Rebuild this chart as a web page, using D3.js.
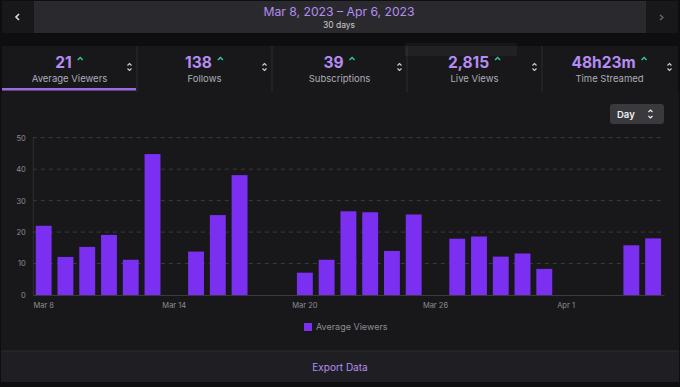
<!DOCTYPE html>
<html>
<head>
<meta charset="utf-8">
<script src="https://cdn.jsdelivr.net/npm/d3@7"></script>
<style>
  body { margin: 0; background: #0e0e10; }
  svg { display: block; font-family: Inter, "Noto Sans", sans-serif; }
</style>
</head>
<body>
<div id="chart"></div>
<script>
// Data
var days = ["Mar 8", "Mar 9", "Mar 10", "Mar 11", "Mar 12", "Mar 13", "Mar 14", "Mar 15",
  "Mar 16", "Mar 17", "Mar 18", "Mar 19", "Mar 20", "Mar 21", "Mar 22", "Mar 23", "Mar 24",
  "Mar 25", "Mar 26", "Mar 27", "Mar 28", "Mar 29", "Mar 30", "Mar 31", "Apr 1", "Apr 2",
  "Apr 3", "Apr 4", "Apr 5"];
var avgViewers = [22, 12.1, 15.3, 19.1, 11.2, 44.8, 0, 13.8, 25.4, 38.1, 0, 0, 7.1, 11.2,
  26.6, 26.3, 14, 25.6, 0, 17.9, 18.6, 12.2, 13.2, 8.3, 0, 0, 0, 15.8, 18];
var xTicks = ["Mar 8", "Mar 14", "Mar 20", "Mar 26", "Apr 1"];
var yTicks = [0, 10, 20, 30, 40, 50];

var statValues = ["21", "138", "39", "2,815", "48h23m"];
var statLabels = ["Average Viewers", "Follows", "Subscriptions", "Live Views", "Time Streamed"];

var svgWidth = 680;
var svgHeight = 387;
var purple = "#7b2ff0";
var lavender = "#b58cf2";

var svg = d3.select("#chart")
  .append("svg")
  .attr("width", svgWidth)
  .attr("height", svgHeight);

svg.append("rect").attr("width", svgWidth).attr("height", svgHeight).attr("fill", "#0e0e10");

// ---- date range header ----
svg.append("rect").attr("x", 2).attr("y", 1).attr("width", 32).attr("height", 32).attr("fill", "#18181b");
svg.append("rect").attr("x", 34).attr("y", 1).attr("width", 612).attr("height", 32).attr("fill", "#2a2a2e");
svg.append("rect").attr("x", 646).attr("y", 1).attr("width", 32).attr("height", 32).attr("fill", "#18181b");
svg.append("path").attr("d", "M19,14 L16,17 L19,20").attr("fill", "none").attr("stroke", "#dcdcdc").attr("stroke-width", 1.6);
svg.append("path").attr("d", "M660,15 L663,17.5 L660,20").attr("fill", "none").attr("stroke", "#6b6b70").attr("stroke-width", 1.2);

svg.append("text").attr("x", 339).attr("y", 15.5).attr("text-anchor", "middle")
  .attr("font-size", 12.2).attr("fill", lavender).text("Mar 8, 2023 \u2013 Apr 6, 2023");
svg.append("text").attr("x", 339).attr("y", 28).attr("text-anchor", "middle")
  .attr("font-size", 8.5).attr("fill", "#c8c8cc").text("30 days");

// ---- stat cards ----
var cardW = 135;
var cards = svg.append("g").attr("transform", "translate(2, 46)");
cards.append("rect").attr("width", 676).attr("height", 46).attr("fill", "#18181b");

statValues.forEach(function (v, i) {
  var g = cards.append("g").attr("transform", `translate(${i * cardW}, 0)`);
  if (i > 0) {
    g.append("line").attr("x1", 0).attr("x2", 0).attr("y1", 0).attr("y2", 46).attr("stroke", "#2c2c31");
  }
  var cx = cardW / 2 - 6;
  var val = g.append("text").attr("x", cx).attr("y", 22).attr("text-anchor", "middle")
    .attr("font-size", 15.5).attr("font-weight", 700).attr("fill", lavender).text(v);
  var w = val.node().getComputedTextLength();
  g.append("path")
    .attr("d", `M${cx + w / 2 + 6},14 L${cx + w / 2 + 8.5},11.5 L${cx + w / 2 + 11},14`)
    .attr("fill", "none").attr("stroke", "#2ecc9a").attr("stroke-width", 1.4);
  g.append("text").attr("x", cardW / 2).attr("y", 36).attr("text-anchor", "middle")
    .attr("font-size", 9.5).attr("fill", "#adadb8").text(statLabels[i]);
  // sort arrows
  g.append("path").attr("d", `M${cardW - 9.5},19.5 L${cardW - 7.5},17.5 L${cardW - 5.5},19.5 M${cardW - 9.5},22.5 L${cardW - 7.5},24.5 L${cardW - 5.5},22.5`)
    .attr("fill", "none").attr("stroke", "#d0d0d4").attr("stroke-width", 1.1);
});
cards.append("rect").attr("x", 0).attr("y", 42).attr("width", 134).attr("height", 2.5).attr("fill", "#9a6ce0");

// faint leftover tooltip box
svg.append("rect").attr("x", 405).attr("y", 43).attr("width", 112).attr("height", 13)
  .attr("fill", "#ffffff").attr("opacity", 0.04);

// ---- chart panel ----
svg.append("rect").attr("x", 1).attr("y", 92).attr("width", 678).attr("height", 259).attr("fill", "#18181b");
svg.append("rect").attr("x", 1).attr("y", 351).attr("width", 678).attr("height", 31).attr("fill", "#1f1f23");
svg.append("line").attr("x1", 1).attr("x2", 679).attr("y1", 351).attr("y2", 351).attr("stroke", "#2c2c31");
svg.append("text").attr("x", 340).attr("y", 371).attr("text-anchor", "middle")
  .attr("font-size", 10).attr("fill", lavender).text("Export Data");

// Day dropdown
svg.append("rect").attr("x", 610).attr("y", 104).attr("width", 54).attr("height", 20).attr("rx", 3).attr("fill", "#3a3a3e");
svg.append("text").attr("x", 617).attr("y", 117.5).attr("font-size", 9.5).attr("font-weight", 600).attr("fill", "#efeff1").text("Day");
svg.append("path").attr("d", "M648.5,112 L650.5,110 L652.5,112 M648.5,116 L650.5,118 L652.5,116")
  .attr("fill", "none").attr("stroke", "#efeff1").attr("stroke-width", 1.2);

var margin = { left: 32.8, top: 137.7, right: 16 };
var width = 664 - margin.left;
var height = 295 - margin.top;

var chartGroup = svg.append("g").attr("transform", `translate(${margin.left}, ${margin.top})`);

var xBandScale = d3.scaleBand().domain(days).range([0, width]).paddingInner(0.27).paddingOuter(0.135);
var yLinearScale = d3.scaleLinear().domain([0, 50]).range([height, 0]);

// gridlines
chartGroup.selectAll(".grid")
  .data(yTicks.filter(d => d > 0))
  .enter()
  .append("line")
  .attr("x1", 0).attr("x2", width)
  .attr("y1", d => yLinearScale(d)).attr("y2", d => yLinearScale(d))
  .attr("stroke", "#3a3a3f").attr("stroke-dasharray", "4,4");

// y axis
var leftAxis = d3.axisLeft(yLinearScale).tickValues(yTicks).tickSize(0).tickPadding(7);
var yAxis = chartGroup.append("g").call(leftAxis);
yAxis.select(".domain").attr("stroke", "#2f2f34");
yAxis.selectAll("text").attr("fill", "#8c8c93").attr("font-size", 7.5).attr("font-family", "Inter, sans-serif");

// bars
chartGroup.selectAll(".bar")
  .data(avgViewers)
  .enter()
  .append("rect")
  .attr("x", (d, i) => xBandScale(days[i]))
  .attr("y", d => yLinearScale(d))
  .attr("width", xBandScale.bandwidth())
  .attr("height", d => height - yLinearScale(d))
  .attr("fill", purple);

// x axis
var bottomAxis = d3.axisBottom(xBandScale).tickValues(xTicks).tickSize(0).tickPadding(8);
var xAxis = chartGroup.append("g").attr("transform", `translate(0, ${height})`).call(bottomAxis);
xAxis.select(".domain").attr("stroke", "#3a3a3f");
xAxis.selectAll("text").attr("fill", "#8c8c93").attr("font-size", 7.5).attr("font-family", "Inter, sans-serif");

// legend
svg.append("rect").attr("x", 304).attr("y", 323).attr("width", 8).attr("height", 8).attr("fill", purple);
svg.append("text").attr("x", 316).attr("y", 330).attr("font-size", 9).attr("fill", "#8c8c93").text("Average Viewers");
</script>
</body>
</html>
